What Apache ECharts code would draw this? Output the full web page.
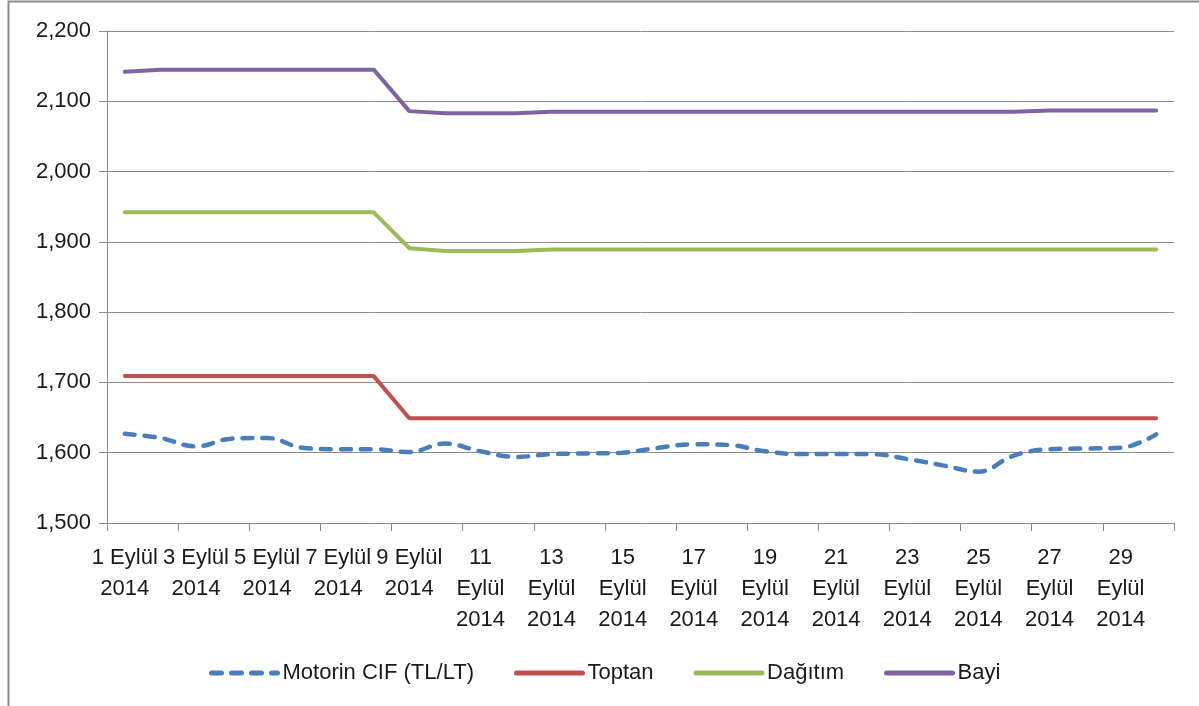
<!DOCTYPE html>
<html>
<head>
<meta charset="utf-8">
<script src="https://cdn.jsdelivr.net/npm/echarts@6/dist/echarts.min.js"></script>
<style>
html,body{margin:0;padding:0;background:#fff;}
#chart{width:1199px;height:706px;}
</style>
</head>
<body>
<div id="chart"></div>
<script>
var categories = [
  '1 Eylül\n2014','2 Eylül\n2014','3 Eylül\n2014','4 Eylül\n2014','5 Eylül\n2014',
  '6 Eylül\n2014','7 Eylül\n2014','8 Eylül\n2014','9 Eylül\n2014','10\nEylül\n2014',
  '11\nEylül\n2014','12\nEylül\n2014','13\nEylül\n2014','14\nEylül\n2014','15\nEylül\n2014',
  '16\nEylül\n2014','17\nEylül\n2014','18\nEylül\n2014','19\nEylül\n2014','20\nEylül\n2014',
  '21\nEylül\n2014','22\nEylül\n2014','23\nEylül\n2014','24\nEylül\n2014','25\nEylül\n2014',
  '26\nEylül\n2014','27\nEylül\n2014','28\nEylül\n2014','29\nEylül\n2014','30\nEylül\n2014'
];
var yTicks = [1500, 1600, 1700, 1800, 1900, 2000, 2100, 2200];
var seriesNames = ['Motorin CIF (TL/LT)', 'Toptan', 'Dağıtım', 'Bayi'];

var motorinCIF = [1627,1621,1609,1620,1621,1607,1605,1605,1601,1613,
                  1602,1594,1598,1599,1600,1607,1612,1611,1602,1598,
                  1598,1598,1591,1582,1573,1596,1605,1606,1607,1626];
var toptan = [1709,1709,1709,1709,1709,1709,1709,1709,1649,1649,
              1649,1649,1649,1649,1649,1649,1649,1649,1649,1649,
              1649,1649,1649,1649,1649,1649,1649,1649,1649,1649];
var dagitim = [1942,1942,1942,1942,1942,1942,1942,1942,1891,1887,
               1887,1887,1889,1889,1889,1889,1889,1889,1889,1889,
               1889,1889,1889,1889,1889,1889,1889,1889,1889,1889];
var bayi = [2142,2145,2145,2145,2145,2145,2145,2145,2086,2083,
            2083,2083,2085,2085,2085,2085,2085,2085,2085,2085,
            2085,2085,2085,2085,2085,2085,2087,2087,2087,2087];

var FONT = '"Liberation Sans", Arial, sans-serif';
var TXT = '#1a1a1a';
var GRID_C = '#8c8c8c';

var chart = echarts.init(document.getElementById('chart'), null, {renderer: 'canvas'});
chart.setOption({
  backgroundColor: '#ffffff',
  animation: false,
  textStyle: {fontFamily: FONT},
  graphic: [{
    type: 'rect',
    shape: {x: 8.5, y: 1.5, width: 1400, height: 900},
    style: {fill: 'none', stroke: '#8a8a8a', lineWidth: 2},
    silent: true
  }],
  grid: {left: 107, right: 25, top: 31, bottom: 183, containLabel: false},
  legend: {
    left: 204,
    top: 657,
    itemWidth: 66,
    itemHeight: 14,
    itemGap: 40,
    itemStyle: {opacity: 0},
    lineStyle: {width: 5},
    textStyle: {fontFamily: FONT, fontSize: 22, color: TXT},
    data: seriesNames
  },
  xAxis: {
    type: 'category',
    data: categories,
    boundaryGap: true,
    axisLine: {show: true, lineStyle: {color: GRID_C, width: 1}},
    axisTick: {show: true, interval: 1, length: 8, lineStyle: {color: GRID_C}},
    axisLabel: {
      interval: 1,
      fontFamily: FONT,
      fontSize: 22,
      color: TXT,
      lineHeight: 31,
      margin: 19
    },
    splitLine: {show: false}
  },
  yAxis: {
    type: 'value',
    min: yTicks[0],
    max: yTicks[yTicks.length - 1],
    interval: yTicks[1] - yTicks[0],
    axisLine: {show: true, lineStyle: {color: GRID_C, width: 1}},
    axisTick: {show: true, length: 8, lineStyle: {color: GRID_C}},
    axisLabel: {
      fontFamily: FONT,
      fontSize: 22,
      color: TXT,
      margin: 16,
      formatter: function (v) { return v.toLocaleString('en-US'); }
    },
    splitLine: {show: true, lineStyle: {color: GRID_C, width: 1}}
  },
  series: [
    {
      name: seriesNames[0], type: 'line', data: motorinCIF,
      smooth: 0.4, symbol: 'none', showSymbol: false,
      itemStyle: {color: '#4a7ebb'},
      lineStyle: {color: '#4a7ebb', width: 4.5, type: [10, 10], cap: 'round'},
      z: 5
    },
    {
      name: seriesNames[1], type: 'line', data: toptan,
      symbol: 'none', showSymbol: false,
      itemStyle: {color: '#c0504d'},
      lineStyle: {color: '#c0504d', width: 4, cap: 'round'}
    },
    {
      name: seriesNames[2], type: 'line', data: dagitim,
      symbol: 'none', showSymbol: false,
      itemStyle: {color: '#9bbb59'},
      lineStyle: {color: '#9bbb59', width: 4, cap: 'round'}
    },
    {
      name: seriesNames[3], type: 'line', data: bayi,
      symbol: 'none', showSymbol: false,
      itemStyle: {color: '#8064a2'},
      lineStyle: {color: '#8064a2', width: 4, cap: 'round'}
    }
  ]
});
</script>
</body>
</html>
